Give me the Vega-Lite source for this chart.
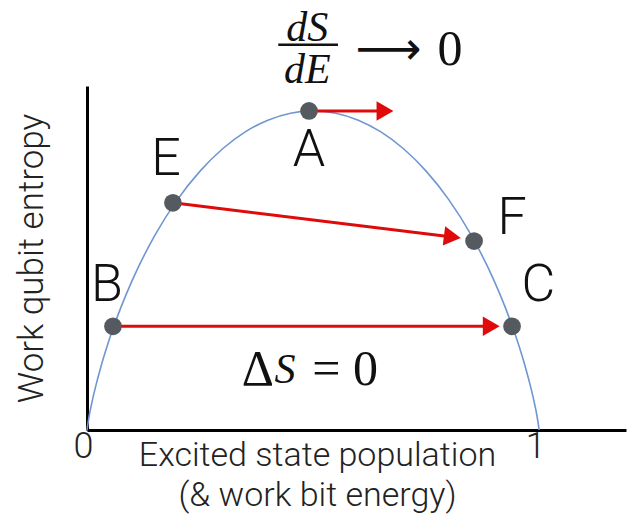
{
  "$schema": "https://vega.github.io/schema/vega-lite/v6.json",
  "width": 539,
  "height": 344,
  "autosize": {"type": "none"},
  "padding": {"left": 87, "top": 86, "right": 2, "bottom": 87},
  "background": "white",
  "config": {"view": {"stroke": null}},
  "datasets": {
    "curve": [
      {"p": 0, "h": 0}, {"p": 0.005, "h": 0.0454}, {"p": 0.01, "h": 0.0808}, {"p": 0.02, "h": 0.1414},
      {"p": 0.03, "h": 0.1944}, {"p": 0.05, "h": 0.2864}, {"p": 0.075, "h": 0.3843}, {"p": 0.1, "h": 0.469},
      {"p": 0.15, "h": 0.6098}, {"p": 0.2, "h": 0.7219}, {"p": 0.25, "h": 0.8113}, {"p": 0.3, "h": 0.8813},
      {"p": 0.35, "h": 0.9341}, {"p": 0.4, "h": 0.971}, {"p": 0.45, "h": 0.9928}, {"p": 0.5, "h": 1},
      {"p": 0.55, "h": 0.9928}, {"p": 0.6, "h": 0.971}, {"p": 0.65, "h": 0.9341}, {"p": 0.7, "h": 0.8813},
      {"p": 0.75, "h": 0.8113}, {"p": 0.8, "h": 0.7219}, {"p": 0.85, "h": 0.6098}, {"p": 0.9, "h": 0.469},
      {"p": 0.925, "h": 0.3843}, {"p": 0.95, "h": 0.2864}, {"p": 0.97, "h": 0.1944}, {"p": 0.98, "h": 0.1414},
      {"p": 0.99, "h": 0.0808}, {"p": 0.995, "h": 0.0454}, {"p": 1, "h": 0}
    ],
    "arrows": [
      {"x": 0.491, "y": 1.0, "x2": 0.659, "y2": 1.0, "angle": 0},
      {"x": 0.19, "y": 0.712, "x2": 0.808, "y2": 0.605, "angle": 7},
      {"x": 0.0575, "y": 0.325, "x2": 0.894, "y2": 0.325, "angle": 0}
    ],
    "states": [
      {"name": "A", "p": 0.491, "h": 1.0, "lx": 0.491, "ly": 0.878},
      {"name": "E", "p": 0.19, "h": 0.712, "lx": 0.175, "ly": 0.85},
      {"name": "F", "p": 0.856, "h": 0.592, "lx": 0.94, "ly": 0.665},
      {"name": "B", "p": 0.0575, "h": 0.325, "lx": 0.044, "ly": 0.455},
      {"name": "C", "p": 0.94, "h": 0.325, "lx": 0.998, "ly": 0.455}
    ]
  },
  "layer": [
    {
      "data": {"name": "curve"},
      "mark": {"type": "line", "color": "#7096d2", "strokeWidth": 1.6, "interpolate": "monotone", "clip": false},
      "encoding": {
        "x": {
          "field": "p", "type": "quantitative",
          "scale": {"domain": [0, 1.192], "nice": false, "zero": false},
          "axis": {
            "values": [0, 1], "format": "d", "ticks": false, "grid": false,
            "domainColor": "black", "domainWidth": 3,
            "labelFont": "Roboto", "labelFontWeight": 300, "labelFontSize": 36, "labelColor": "#222",
            "labelPadding": -1, "labelBaseline": "top", "labelFlush": false, "labelOffset": -4, "labelOverlap": false,
            "title": ["Excited state population", "(& work bit energy)"],
            "titleFont": "Roboto", "titleFontWeight": 300, "titleFontSize": 34, "titleColor": "#222",
            "titleLineHeight": 40, "titleX": 230, "titleY": 8, "titleBaseline": "top", "titleAlign": "center"
          }
        },
        "y": {
          "field": "h", "type": "quantitative",
          "scale": {"domain": [0, 1.078], "nice": false, "zero": false},
          "axis": {
            "labels": false, "ticks": false, "grid": false,
            "domainColor": "black", "domainWidth": 3,
            "title": "Work qubit entropy",
            "titleFont": "Roboto", "titleFontWeight": 300, "titleFontSize": 35, "titleColor": "#222",
            "titlePadding": 38
          }
        }
      }
    },
    {
      "data": {"name": "arrows"},
      "mark": {"type": "rule", "color": "#e00a0a", "strokeWidth": 3},
      "encoding": {
        "x": {"field": "x", "type": "quantitative"},
        "y": {"field": "y", "type": "quantitative"},
        "x2": {"field": "x2"},
        "y2": {"field": "y2"}
      }
    },
    {
      "data": {"name": "arrows"},
      "mark": {"type": "point", "shape": "triangle-right", "filled": true, "color": "#e00a0a", "size": 380, "opacity": 1},
      "encoding": {
        "x": {"field": "x2", "type": "quantitative"},
        "y": {"field": "y2", "type": "quantitative"},
        "angle": {"field": "angle", "type": "quantitative", "scale": null}
      }
    },
    {
      "data": {"name": "states"},
      "mark": {"type": "circle", "color": "#555a60", "size": 314, "opacity": 1},
      "encoding": {
        "x": {"field": "p", "type": "quantitative"},
        "y": {"field": "h", "type": "quantitative"}
      }
    },
    {
      "data": {"name": "states"},
      "mark": {"type": "text", "font": "Roboto", "fontWeight": 300, "fontSize": 52, "color": "#111", "baseline": "middle", "align": "center"},
      "encoding": {
        "x": {"field": "lx", "type": "quantitative"},
        "y": {"field": "ly", "type": "quantitative"},
        "text": {"field": "name"}
      }
    },
    {
      "data": {"values": [{"t": "dS", "x": 0.487, "y": 1.26}, {"t": "dE", "x": 0.487, "y": 1.129}, {"t": "S", "x": 0.438, "y": 0.188}]},
      "mark": {"type": "text", "font": "Liberation Serif", "fontStyle": "italic", "fontSize": 42, "color": "#111", "baseline": "middle", "align": "center"},
      "encoding": {
        "x": {"field": "x", "type": "quantitative"},
        "y": {"field": "y", "type": "quantitative"},
        "text": {"field": "t"}
      }
    },
    {
      "data": {"values": [{"t": "0", "x": 0.803, "y": 1.191}, {"t": "Δ", "x": 0.378, "y": 0.188}, {"t": "= 0", "x": 0.571, "y": 0.188}]},
      "mark": {"type": "text", "font": "Liberation Serif", "fontSize": 50, "color": "#111", "baseline": "middle", "align": "center"},
      "encoding": {
        "x": {"field": "x", "type": "quantitative"},
        "y": {"field": "y", "type": "quantitative"},
        "text": {"field": "t"}
      }
    },
    {
      "data": {"values": [{"t": "⟶", "x": 0.666, "y": 1.191}]},
      "mark": {"type": "text", "font": "DejaVu Sans", "fontSize": 46, "color": "#111", "baseline": "middle", "align": "center"},
      "encoding": {
        "x": {"field": "x", "type": "quantitative"},
        "y": {"field": "y", "type": "quantitative"},
        "text": {"field": "t"}
      }
    },
    {
      "data": {"values": [{"x": 0.423, "x2": 0.555, "y": 1.207}]},
      "mark": {"type": "rule", "color": "#111", "strokeWidth": 2.5},
      "encoding": {
        "x": {"field": "x", "type": "quantitative"},
        "x2": {"field": "x2"},
        "y": {"field": "y", "type": "quantitative"}
      }
    }
  ]
}
